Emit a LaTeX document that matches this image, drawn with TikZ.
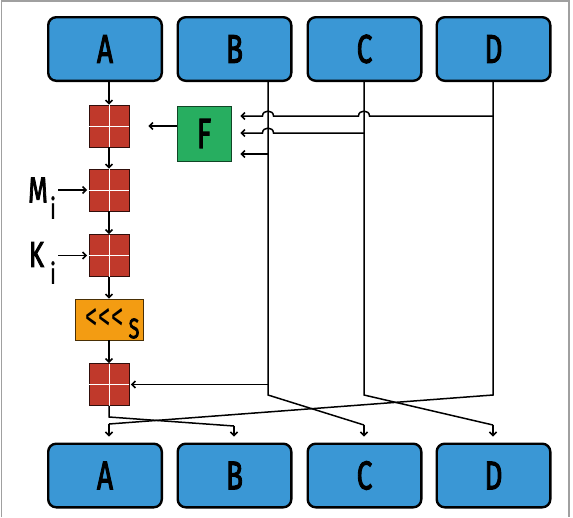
\documentclass[tikz,border=0pt]{standalone}
\usepackage{fontspec}
\setmainfont{Fira Sans}[BoldFont=*, BoldFeatures={FakeBold=3}]
\usetikzlibrary{arrows.meta,calc}
\definecolor{boxblue}{HTML}{3A97D5}
\definecolor{sqred}{HTML}{C0392B}
\definecolor{fgreen}{HTML}{27AE60}
\definecolor{rotorange}{HTML}{F39C12}
\definecolor{framegray}{HTML}{A0A0A0}
\newcommand\myCond[1]{\scalebox{0.7}[1]{#1}}
\begin{document}
\begin{tikzpicture}[x=1pt,y=-1pt,
  bigbox/.style={draw=black, line width=2.4pt, fill=boxblue, rounded corners=8pt,
    minimum width=113.6pt, minimum height=63.6pt, inner sep=0pt,
    font=\bfseries\fontsize{40}{40}\selectfont},
  addsq/.style={draw=black!75!sqred, line width=0.8pt, fill=sqred, minimum width=40pt,
    minimum height=42pt, inner sep=0pt},
  fbox/.style={draw=black!60!fgreen, line width=0.8pt, fill=fgreen, minimum width=54pt,
    minimum height=55pt, inner sep=0pt, font=\bfseries\fontsize{42}{42}\selectfont},
  rotbox/.style={draw=black!70!rotorange, line width=0.8pt, fill=rotorange, minimum width=68pt,
    minimum height=41pt, inner sep=0pt},
  lbl/.style={inner sep=0pt, font=\bfseries\fontsize{36}{36}\selectfont},
  sub/.style={inner sep=0pt, font=\bfseries\fontsize{28}{28}\selectfont},
  ln/.style={line width=1.5pt, black},
  arr/.style={ln, -{Straight Barb[length=3.5pt,width=7pt]}},
  cross/.style={white, line width=0.9pt}
]
\useasboundingbox (0,0) rectangle (573,517);
\fill[white] (0,0) rectangle (573,517);
\draw[framegray, line width=1.5pt] (1.5,517) -- (1.5,1) -- (569,1) -- (569,517);

% top boxes
\node[bigbox] (tA) at (105,49) {\myCond{A}};
\node[bigbox] (tB) at (234.5,49) {\myCond{B}};
\node[bigbox] (tC) at (364.5,49) {\myCond{C}};
\node[bigbox] (tD) at (493.5,49) {\myCond{D}};
% bottom boxes
\node[bigbox] (bA) at (105,475.5) {\myCond{A}};
\node[bigbox] (bB) at (234.5,475.5) {\myCond{B}};
\node[bigbox] (bC) at (364.5,475.5) {\myCond{C}};
\node[bigbox] (bD) at (493.5,475.5) {\myCond{D}};

% adders
\node[addsq] (s1) at (109,126) {};
\node[addsq] (s2) at (109,190) {};
\node[addsq] (s3) at (109,255.5) {};
\node[addsq] (s4) at (109,384.5) {};
\foreach \s in {s1,s2,s3,s4}{
  \draw[cross] ([yshift=-0.4pt]\s.north) -- ([yshift=0.4pt]\s.south);
  \draw[cross] ([xshift=0.4pt]\s.west) -- ([xshift=-0.4pt]\s.east);
}
% F box
\node[fbox] (F) at (204,133.5) {\myCond{F}};
% rotation box
\node[rotbox] (R) at (109,319.5) {};
\node[inner sep=0pt, font=\mdseries\fontsize{40}{40}\selectfont, anchor=center] (Rt) at (104.5,319.5)
  {\scalebox{0.62}[1]{<\kern1pt<\kern1pt<}};
\node[sub, anchor=center] (Rs) at (134,328.5) {\myCond{S}};

% M_i, K_i labels
\node[lbl] (M) at (38,190) {\myCond{M}};
\node[sub] (Mi) at (53,207.5) {\myCond{i}};
\node[lbl] (K) at (36.5,254.5) {\myCond{K}};
\node[sub] (Ki) at (53,272.5) {\myCond{i}};
\coordinate (Mo) at (58,190);
\coordinate (Ko) at (58,255.5);

% coordinates for line x positions
\coordinate (xA) at (109,0);
\coordinate (xB) at (268,0);
\coordinate (xC) at (364,0);
\coordinate (xD) at (493,0);

% main chain
\draw[arr] (tA.south -| xA) -- (s1.north);
\draw[arr] (s1.south) -- (s2.north);
\draw[arr] (s2.south) -- (s3.north);
\draw[arr] (s3.south) -- (R.north);
\draw[arr] (R.south) -- (s4.north);
\draw[arr, shorten >=19pt] (F.west |- s1) -- (s1.east);
\draw[arr, shorten >=1.5pt] (Mo) -- (s2.west);
\draw[arr, shorten >=1.5pt] (Ko) -- (s3.west);

% vertical lines
\coordinate (jD) at (493,116);
\coordinate (jC) at (364,133);
\coordinate (jB) at (268,154);
\draw[ln] (tD.south -| xD) -- (493,395) -- (109,424);
\draw[ln] (tC.south -| xC) -- (364,395) -- (493,425);
\draw[ln] (tB.south -| xB) -- (268,395) -- (364,425);
\draw[ln] (s4.south) -- (109,417) -- (234,426);

\draw[arr, shorten >=6pt] (234,426) -- (bB.north -| 234,0);
\draw[arr, shorten >=6pt] (364,425) -- (bC.north -| xC);
\draw[arr, shorten >=6pt] (493,425) -- (bD.north -| xD);
\draw[arr, shorten >=6pt] (109,424) -- (bA.north -| xA);

% feeds into F with jumps
\draw[arr, shorten >=9pt] (jD) -- (369.5,116) .. controls (369.5,109.5) and (358.5,109.5) .. (358.5,116)
   -- (273.5,116) .. controls (273.5,109.5) and (262.5,109.5) .. (262.5,116) -- (F.east |- jD);
\draw[arr, shorten >=9pt] (jC) -- (273.5,133) .. controls (273.5,126.5) and (262.5,126.5) .. (262.5,133)
   -- (F.east |- jC);
\draw[arr, shorten >=9pt] (jB) -- (F.east |- jB);
% B to last adder
\draw[arr, shorten >=1.5pt] (268,384.5) -- (s4.east);
\end{tikzpicture}
\end{document}
